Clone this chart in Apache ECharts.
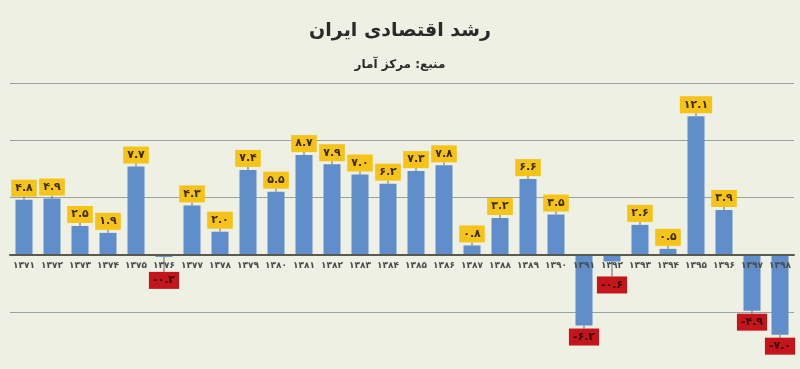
<!DOCTYPE html>
<html><head><meta charset="utf-8">
<script src="https://cdn.jsdelivr.net/npm/echarts@6/dist/echarts.min.js"></script>
<style>html,body{margin:0;padding:0;background:#edf0e2}#c{width:800px;height:369px}</style>
</head><body><div id="c"></div>
<script>
var titleText = 'رشد اقتصادی ایران';
var subtitleText = 'منبع: مرکز آمار';
var years = ['۱۳۷۱','۱۳۷۲','۱۳۷۳','۱۳۷۴','۱۳۷۵','۱۳۷۶','۱۳۷۷','۱۳۷۸','۱۳۷۹','۱۳۸۰','۱۳۸۱','۱۳۸۲','۱۳۸۳','۱۳۸۴','۱۳۸۵','۱۳۸۶','۱۳۸۷','۱۳۸۸','۱۳۸۹','۱۳۹۰','۱۳۹۱','۱۳۹۲','۱۳۹۳','۱۳۹۴','۱۳۹۵','۱۳۹۶','۱۳۹۷','۱۳۹۸'];
var growth = [4.8,4.9,2.5,1.9,7.7,-0.2,4.3,2.0,7.4,5.5,8.7,7.9,7.0,6.2,7.3,7.8,0.8,3.2,6.6,3.5,-6.2,-0.6,2.6,0.5,12.1,3.9,-4.9,-7.0];
var yTicks = {min:-10, max:15, interval:5};

var fa = '۰۱۲۳۴۵۶۷۸۹';
function toFa(v){
  var s = Math.abs(v).toFixed(1).replace(/[0-9]/g, function(d){return fa[+d];});
  return (v < 0 ? '-' : '') + s;
}
var FONT = 'DejaVu Sans';
var W = 800, H = 369, GT = 83, GB = 0;
var zeroOffset = -(H - GT - GB) * (0 - yTicks.min) / (yTicks.max - yTicks.min);
var data = growth.map(function(v){
  var neg = v < 0;
  return {
    value: v,
    label: {
      position: neg ? 'bottom' : 'top',
      backgroundColor: neg ? '#c4151c' : '#f6c319',
      color: neg ? '#3a0303' : '#3a2a05'
    }
  };
});
var chart = echarts.init(document.getElementById('c'), null, {renderer:'canvas'});
chart.setOption({
  backgroundColor: '#edf0e2',
  animation: false,
  title: [
    {text: titleText, left: 'center', top: 17, textStyle:{fontFamily: FONT, fontWeight:'bold', fontSize:19, color:'#2a2a2a'}},
    {text: subtitleText, left: 'center', top: 54, textStyle:{fontFamily: FONT, fontWeight:'bold', fontSize:12, color:'#2a2a2a'}}
  ],
  grid: {left: 10, right: 6, top: GT, bottom: GB, containLabel: false},
  xAxis: {
    type: 'category', data: years, z: 5, offset: zeroOffset,
    axisLine: {onZero: false, lineStyle: {color:'#5a5a4e', width: 2}},
    axisTick: {show: false},
    axisLabel: {fontFamily: FONT, fontSize: 9, fontWeight:'bold', color:'#4a4a4a', margin: 7, interval: 0}
  },
  yAxis: {
    type: 'value', min: yTicks.min, max: yTicks.max, interval: yTicks.interval,
    axisLabel: {show: false}, axisLine: {show:false}, axisTick:{show:false},
    splitLine: {lineStyle: {color:'#97a4a2', width: 1}}
  },
  series: [{
    type: 'bar', data: data, barWidth: 17,
    itemStyle: {color: '#5f8ecb'},
    label: {
      show: true, distance: 3,
      formatter: function(p){ return toFa(p.value); },
      fontFamily: FONT, fontWeight: 'bold', fontSize: 11, lineHeight: 13,
      padding: [2, 4, 2, 4]
    },
    labelLayout: function(p){
      var v = growth[p.dataIndex];
      if (v < 0 && v > -1) return {dy: 12};
      return {};
    },
    labelLine: {show: true, lineStyle: {color:'#666', width: 1}}
  }]
});
</script></body></html>
